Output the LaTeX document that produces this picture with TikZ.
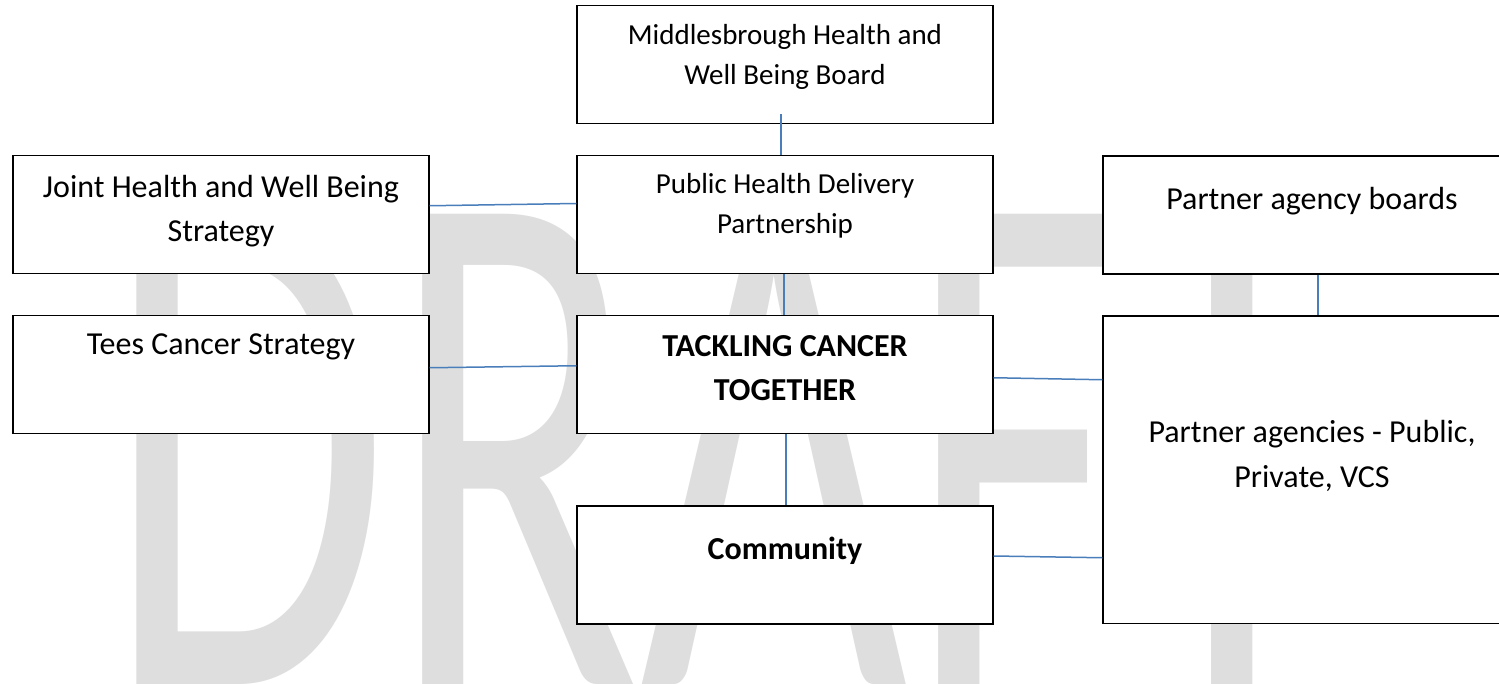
\documentclass[tikz,border=0pt]{standalone}
\usepackage{fontspec}
\setmainfont{Carlito}
\usetikzlibrary{calc}
\definecolor{wmgray}{HTML}{DEDEDE}
\definecolor{linkblue}{HTML}{4A7EBB}
\begin{document}
\begin{tikzpicture}[x=1pt,y=-1pt,
  box/.style={draw=black, line width=1.3pt, fill=white, minimum width=416pt,
              minimum height=118pt, inner sep=0pt},
  txt/.style={anchor=base, align=center, inner sep=0pt},
  reg/.style={font=\fontsize{29}{40}\selectfont},
  big/.style={font=\fontsize{32}{44.5}\selectfont},
  bigb/.style={font=\fontsize{32}{44.5}\selectfont\bfseries},
  link/.style={draw=linkblue, line width=1.5pt}]
\useasboundingbox (0,0) rectangle (1499,684);
\clip (0,0) rectangle (1499,684);
\fill[white] (0,0) rectangle (1499,684);

% watermark
\node[anchor=base west, inner sep=0pt, text=wmgray] (wm) at (105,684)
  {\scalebox{4.62}[7.33]{\fontsize{100}{100}\selectfont DRAFT}};

% boxes
\node[box] (mhwb) at (785,64.75) {};
\node[box] (phdp) at (785,214.5) {};
\node[box] (jhws) at (221,214.75) {};
\node[box] (tcs)  at (221,374.75) {};
\node[box] (tct)  at (785,374.75) {};
\node[box] (comm) at (785,565) {};
\node[box, minimum width=418pt] (pab) at (1312,215) {};
\node[box, minimum width=418pt, minimum height=307.5pt] (pa) at (1312,469.75) {};

% connectors
\draw[link] ([xshift=-4pt,yshift=10pt]mhwb.south) -- ([xshift=-4pt]phdp.north);
\draw[link] ([xshift=-1pt]phdp.south) -- ([xshift=-1pt]tct.north);
\draw[link] ([xshift=1pt]tct.south) -- ([xshift=1pt]comm.north);
\draw[link] ([yshift=9pt]jhws.east) -- ([yshift=11pt]phdp.west);
\draw[link] ([yshift=7pt]tcs.east) -- ([yshift=9pt]tct.west);
\draw[link] ([yshift=-3pt]tct.east) -- ([yshift=90pt]pa.west);
\draw[link] ([yshift=9pt]comm.east) -- ([yshift=-88pt]pa.west);
\draw[link] ([xshift=6pt]pab.south) -- ([xshift=6pt]pa.north);

% labels (multi-line nodes sit on the baseline of their last line)
\node[txt, reg] (tmhwb) at (785,85) {Middlesbrough Health and\\Well Being Board};
\node[txt, reg] (tphdp) at (785,233.3) {Public Health Delivery\\Partnership};
\node[txt, big] (tjhws) at (221,241.7) {Joint Health and Well Being\\Strategy};
\node[txt, big] (ttcs) at (221,355) {Tees Cancer Strategy};
\node[txt, bigb] (ttct) at (785,400.7) {TACKLING CANCER\\TOGETHER};
\node[txt, bigb] (tcomm) at (785,559) {Community};
\node[txt, big] (tpab) at (1312,210) {Partner agency boards};
\node[txt, big] (tpa) at (1312,487) {Partner agencies - Public,\\Private, VCS};
\end{tikzpicture}
\end{document}
